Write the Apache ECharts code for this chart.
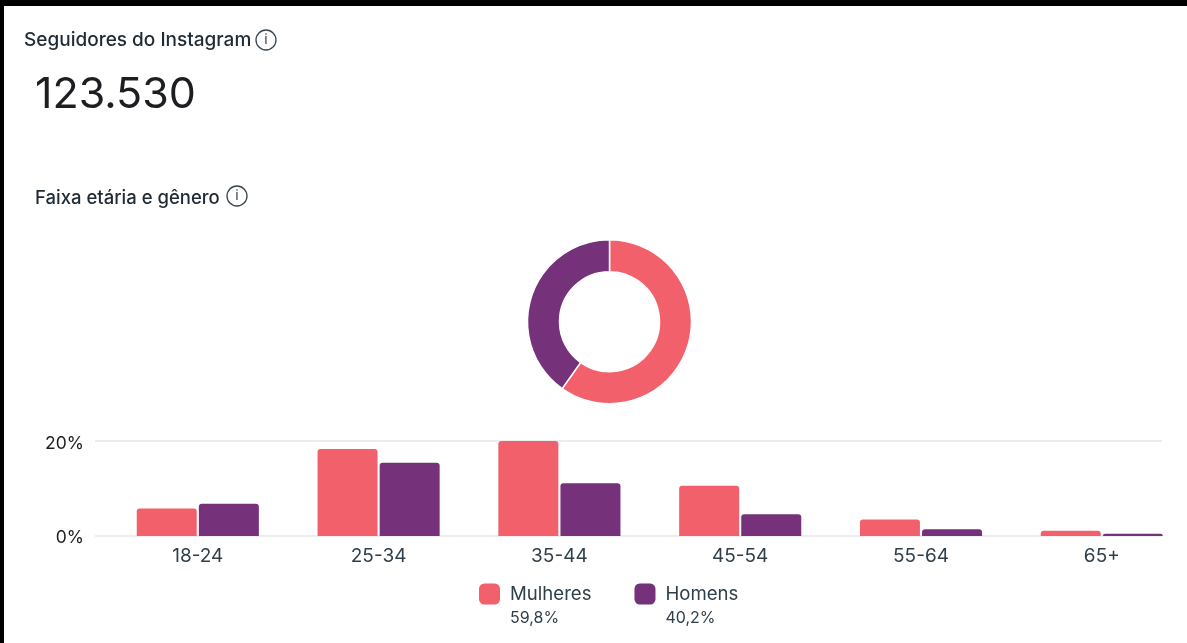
<!DOCTYPE html>
<html>
<head>
<meta charset="utf-8">
<style>html,body{margin:0;padding:0;background:#fff}#c{width:1187px;height:643px}</style>
<script src="https://cdn.jsdelivr.net/npm/echarts@6/dist/echarts.min.js"></script>
</head>
<body>
<div id="c"></div>
<script>
const ageGroups = ['18-24','25-34','35-44','45-54','55-64','65+'];
const women = [5.8,18.3,20.0,10.6,3.5,1.1];
const men = [6.8,15.4,11.1,4.6,1.4,0.5];
const genderNames = ['Mulheres','Homens'];
const genderShare = [59.8,40.2];
const genderLabels = ['59,8%','40,2%'];
const yTicks = [0,20];
const followerTitle = 'Seguidores do Instagram';
const followerCount = '123.530';
const sectionTitle = 'Faixa etária e gênero';

const PINK = '#F2606C', PURPLE = '#753179', FONT = 'Inter';
const chart = echarts.init(document.getElementById('c'), null, {renderer:'canvas'});

function infoIcon(cx, cy){
  return [
    {type:'circle', shape:{cx, cy, r:10}, style:{fill:'#fff', stroke:'#36454f', lineWidth:1.3}},
    {type:'text', style:{x:cx, y:cy, text:'i', fill:'#36454f', font:'400 14px '+FONT, align:'center', verticalAlign:'middle'}}
  ];
}

chart.setOption({
  animation:false,
  backgroundColor:'#fff',
  title:[
    {text:followerTitle, left:19, top:26, textStyle:{fontFamily:FONT, fontSize:19, fontWeight:500, color:'#1f2a33'}},
    {text:followerCount, left:30, top:69, textStyle:{fontFamily:FONT, fontSize:43, fontWeight:400, color:'#1c1e21'}},
    {text:sectionTitle, left:30, top:184, textStyle:{fontFamily:FONT, fontSize:18.5, fontWeight:500, color:'#1f2a33'}}
  ],
  grid:[
    {left:107.4, top:441, width:1084.8, height:95, outerBoundsMode:'none'},
    {left:95, top:441, width:1067, height:95, outerBoundsMode:'none'},
    {left:95, top:444, width:1067, height:94, outerBoundsMode:'none'}
  ],
  xAxis:[
    {type:'category', gridIndex:0, data:ageGroups, axisLine:{show:false}, axisTick:{show:false},
     axisLabel:{margin:11, fontFamily:FONT, fontSize:19, color:'#2f3e49'}},
    {type:'value', gridIndex:1, min:0, max:1, show:false},
    {type:'value', gridIndex:2, min:0, max:1, show:false}
  ],
  yAxis:[
    {type:'value', gridIndex:0, min:0, max:20, show:false},
    {type:'value', gridIndex:1, min:yTicks[0], max:yTicks[1], interval:yTicks[1]-yTicks[0],
     axisLine:{show:false}, axisTick:{show:false}, axisLabel:{show:false},
     splitLine:{show:true, lineStyle:{color:'#E4E6EB', width:1.5}}},
    {type:'value', gridIndex:2, min:yTicks[0], max:yTicks[1], interval:yTicks[1]-yTicks[0],
     axisLine:{show:false}, axisTick:{show:false}, splitLine:{show:false},
     axisLabel:{margin:11, fontFamily:FONT, fontSize:17.5, color:'#1c1e21', formatter:'{value}%'}}
  ],
  legend:{
    left:474, top:553, itemWidth:21, itemHeight:21, itemGap:43, selectedMode:false, icon:'roundRect',
    data:genderNames,
    formatter:function(name){
      return '{s| }\n{a|'+name+'}\n{b|'+genderLabels[genderNames.indexOf(name)]+'}';
    },
    textStyle:{padding:[0,0,0,-1], rich:{
      s:{fontSize:16, lineHeight:24, height:24},
      a:{fontFamily:FONT, fontSize:18.6, lineHeight:24, height:24, color:'#2f3e49', padding:[0,0,0,6]},
      b:{fontFamily:FONT, fontSize:16, lineHeight:24, height:24, color:'#2f3e49', padding:[0,0,0,6]}
    }}
  },
  series:[
    {type:'pie', name:'Gênero', center:[609.5,321.7], radius:[50,82], startAngle:90, clockwise:true,
     label:{show:false}, labelLine:{show:false}, silent:true,
     itemStyle:{borderColor:'#fff', borderWidth:1.5},
     data:genderNames.map((n,i)=>({name:n, value:genderShare[i], itemStyle:{color:i?PURPLE:PINK}}))},
    {type:'bar', name:'Mulheres', xAxisIndex:0, yAxisIndex:0, data:women, barWidth:60, barGap:'3.5%',
     itemStyle:{color:PINK, borderRadius:[3,3,0,0]}, legendHoverLink:false},
    {type:'bar', name:'Homens', xAxisIndex:0, yAxisIndex:0, data:men, barWidth:60, barGap:'3.5%',
     itemStyle:{color:PURPLE, borderRadius:[3,3,0,0]}, legendHoverLink:false}
  ],
  graphic:[
    {type:'rect', shape:{x:0,y:0,width:1187,height:6}, style:{fill:'#000'}, z:100},
    {type:'rect', shape:{x:0,y:0,width:4,height:643}, style:{fill:'#000'}, z:100}
  ].concat(infoIcon(266,40), infoIcon(237,196))
});
</script>
</body>
</html>
